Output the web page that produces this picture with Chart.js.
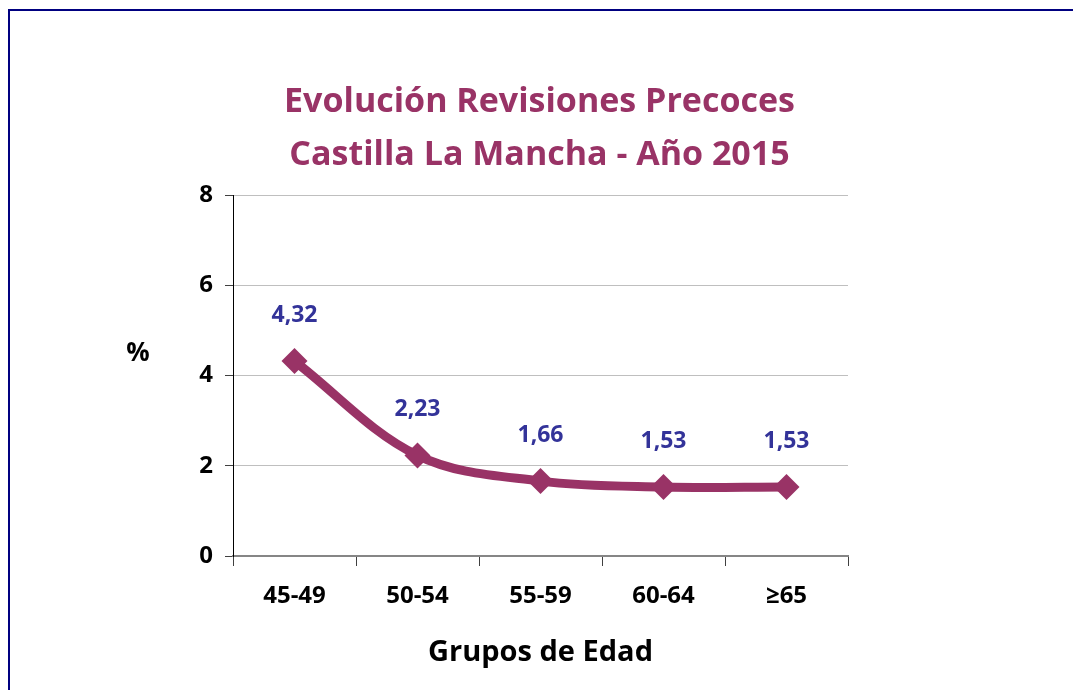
<!DOCTYPE html>
<html>
<head>
<meta charset="utf-8">
<script src="https://cdn.jsdelivr.net/npm/chart.js@4"></script>
<style>
  body { margin: 0; background: #fff; }
  #wrap { width: 1073px; height: 690px; position: relative; }
</style>
</head>
<body>
<div id="wrap"><canvas id="revisiones"></canvas></div>
<script>
// datos
var grupos = ["45-49", "50-54", "55-59", "60-64", "\u226565"];
var porcentajes = [4.32, 2.23, 1.66, 1.53, 1.53];
var ticksY = [0, 2, 4, 6, 8];

var fuente = "'Open Sans', 'DejaVu Sans', sans-serif";
var morado = '#993366';
var azul = '#333399';

// marco azul de la imagen original
var marco = {
  id: 'marco',
  beforeDraw: function (chart) {
    var ctx = chart.ctx;
    ctx.save();
    ctx.fillStyle = '#fff';
    ctx.fillRect(0, 0, chart.width, chart.height);
    ctx.fillStyle = '#000080';
    ctx.fillRect(8, 9, 2, chart.height);
    ctx.fillRect(8, 9, chart.width, 2);
    ctx.restore();
  }
};

// etiquetas de valores y el "%" del eje
var etiquetas = {
  id: 'etiquetas',
  afterDatasetsDraw: function (chart) {
    var ctx = chart.ctx;
    var meta = chart.getDatasetMeta(0);
    ctx.save();
    ctx.font = 'bold 23px ' + fuente;
    ctx.fillStyle = azul;
    ctx.textAlign = 'center';
    ctx.textBaseline = 'middle';
    meta.data.forEach(function (pt, i) {
      var txt = porcentajes[i].toFixed(2).replace('.', ',');
      ctx.fillText(txt, pt.x, pt.y - 46);
    });
    var area = chart.chartArea;
    ctx.font = 'bold 26px ' + fuente;
    ctx.fillStyle = '#000';
    ctx.fillText('%', area.left - 95, area.top + 159);
    ctx.restore();
  }
};

var ctx = document.getElementById("revisiones");
var config = {
  type: 'line',
  data: {
    labels: grupos,
    datasets: [{
      data: porcentajes,
      borderColor: morado,
      backgroundColor: morado,
      borderWidth: 9,
      tension: 0.35,
      pointStyle: 'rectRot',
      pointRadius: 13,
      pointHoverRadius: 13,
      pointBackgroundColor: morado,
      pointBorderWidth: 0,
      fill: false
    }]
  },
  options: {
    responsive: true,
    maintainAspectRatio: false,
    animation: false,
    layout: { padding: { left: 6, right: 0, top: 0, bottom: 0 } },
    plugins: {
      legend: { display: false },
      tooltip: { enabled: false },
      title: {
        display: true,
        text: ['Evolución Revisiones Precoces', 'Castilla La Mancha - Año 2015'],
        color: morado,
        font: { family: fuente, size: 34, weight: 'bold', lineHeight: 1.56 },
        padding: { top: 76, bottom: 13 }
      }
    },
    scales: {
      x: {
        offset: true,
        grid: {
          offset: true,
          drawOnChartArea: false,
          drawTicks: true,
          tickLength: 10,
          color: '#404040'
        },
        border: { color: '#868686', width: 2 },
        ticks: {
          color: '#000',
          padding: 16,
          font: { family: fuente, size: 24, weight: 'bold' }
        },
        title: {
          display: true,
          text: 'Grupos de Edad',
          color: '#000',
          font: { family: fuente, size: 29, weight: 'bold' },
          padding: { top: 0, bottom: 20 }
        },
        afterFit: function (scale) { scale.height = 134; }
      },
      y: {
        min: 0,
        max: 8,
        afterBuildTicks: function (scale) {
          scale.ticks = ticksY.map(function (v) { return { value: v }; });
        },
        grid: {
          color: '#bfbfbf',
          tickColor: '#404040',
          tickLength: 8
        },
        border: { color: '#000', width: 1 },
        ticks: {
          color: '#000',
          padding: 12,
          font: { family: fuente, size: 24, weight: 'bold' }
        },
        afterFit: function (scale) { scale.width = 227; }
      },
      // eje vacio a la derecha para dejar el hueco del original
      derecha: {
        position: 'right',
        display: true,
        grid: { display: false, drawTicks: false },
        border: { display: false },
        ticks: { display: false },
        afterFit: function (scale) { scale.width = 225; }
      }
    }
  },
  plugins: [marco, etiquetas]
};
var grafico = new Chart(ctx, config);
</script>
</body>
</html>
